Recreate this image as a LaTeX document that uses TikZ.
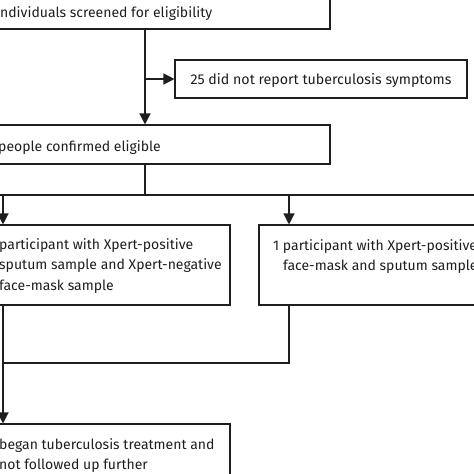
\documentclass[tikz,border=0pt]{standalone}
\usepackage{fontspec}
\setmainfont{Fira Sans}
\usetikzlibrary{arrows.meta,fit}
\definecolor{ink}{HTML}{1E1E1E}
\begin{document}
\begin{tikzpicture}[x=1pt,y=-1pt,
  box/.style={draw=ink,line width=1.1pt,inner sep=0pt},
  txt/.style={anchor=base west,inner sep=0pt,font=\fontsize{14}{20.5}\selectfont,text=ink,align=left},
  conn/.style={draw=ink,line width=1.3pt},
  arr/.style={conn,-{Triangle[length=11pt,width=11pt]}}]
\useasboundingbox (0,0) rectangle (474,474);
\clip (0,0) rectangle (474,474);
% boxes
\node[box,fit={(-30,-30)(330,29)}] (screen) {};
\node[box,fit={(175,60)(467,98)}] (nosym) {};
\node[box,fit={(-30,125)(330,164)}] (elig) {};
\node[box,fit={(-30,225)(230,305)}] (pos1) {};
\node[box,fit={(259,225)(500,305)}] (pos2) {};
\node[box,fit={(-30,424)(230,500)}] (treat) {};
% texts (base anchor = baseline of last line)
\node[txt] (tscreen) at (-4,17) {individuals screened for eligibility};
\node[txt,anchor=base,font=\fontsize{14.2}{20.5}\selectfont] (tnosym) at (321,84.5) {25 did not report tuberculosis symptoms};
\node[txt] (telig) at (-2,151) {people confirmed eligible};
\node[txt] (tpos1) at (-1,290) {participant with Xpert-positive\\sputum sample and Xpert-negative\\face-mask sample};
\node[txt] (tpos2) at (273,270.5) {1 participant with Xpert-positive\\\hspace*{10pt}face-mask and sputum samples};
\node[txt] (ttreat) at (-1,469.5) {began tuberculosis treatment and\\not followed up further};
% junctions
\coordinate (j1) at (145,79);
\coordinate (j2) at (145,195);
\coordinate (jl) at (3,195);
\coordinate (jr) at (289,195);
\coordinate (jL) at (-10,195);
\coordinate (jR) at (484,195);
\coordinate (j3) at (3,363);
% connectors
\draw[arr] (screen.south -| j1) -- (elig.north -| j1);
\draw[arr] (j1) -- (nosym.west);
\draw[conn] (elig.south -| j2) -- (j2);
\draw[conn] (jL) -- (jR);
\draw[arr] (jl) -- (pos1.north -| jl);
\draw[arr] (jr) -- (pos2.north -| jr);
\draw[conn] (pos2.south -| jr) |- (j3);
\draw[arr] (pos1.south -| jl) -- (treat.north -| jl);
\end{tikzpicture}
\end{document}
